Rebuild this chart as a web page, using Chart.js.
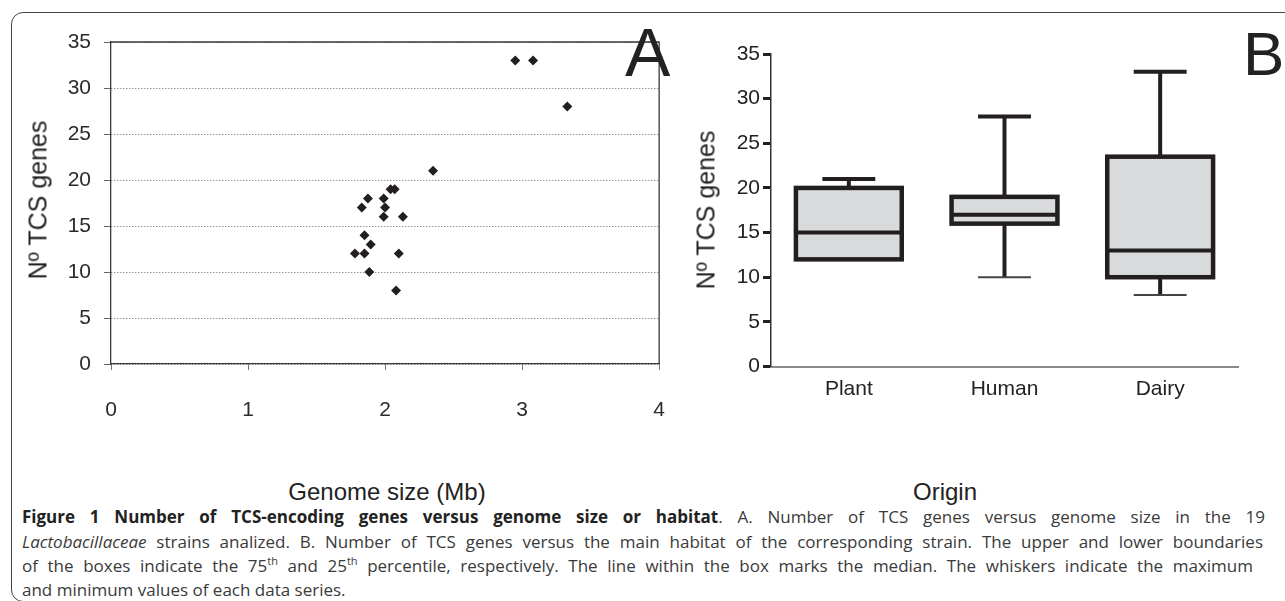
<!DOCTYPE html>
<html>
<head>
<meta charset="utf-8">
<script src="https://cdn.jsdelivr.net/npm/chart.js@4"></script>
<style>
  html, body { margin:0; padding:0; background:#fff; }
  body { width:1285px; height:601px; position:relative; overflow:hidden; font-family:"Liberation Sans", Arial, sans-serif; }
  .frame { position:absolute; left:11px; top:12px; width:1300px; height:590px; border:1.5px solid #444; border-radius:12px; box-sizing:border-box; }
  .abs { position:absolute; white-space:nowrap; color:#222; }
  #wrapA { position:absolute; left:0; top:0; width:693px; height:440px; }
  #wrapB { position:absolute; left:680px; top:0; width:605px; height:440px; }
  .title { font-size:24px; transform:translate(-50%,-50%); }
  .ylab { font-size:25px; transform:translate(-50%,-50%) rotate(-90deg); }
  .letter { line-height:1; }
  .cap { position:absolute; left:22px; font-family:"Open Sans", "Noto Sans", sans-serif; font-size:17px; color:#3a3a3a; white-space:nowrap; line-height:20px; }
  .cap b { color:#222; }
  .cap sup { font-size:11px; line-height:0; vertical-align:7px; }
</style>
</head>
<body>
<div class="frame"></div>
<div id="wrapA"><canvas id="chartA" width="693" height="440"></canvas></div>
<div id="wrapB"><canvas id="chartB" width="605" height="440"></canvas></div>

<div class="abs letter" style="left:625px; top:18px; font-size:68px;">A</div>
<div class="abs letter" style="left:1243px; top:23px; font-size:62px;">B</div>
<div class="abs title" style="left:387px; top:492px;">Genome size (Mb)</div>
<div class="abs title" style="left:945px; top:492px;">Origin</div>
<div class="abs ylab" style="left:38px; top:200px;">Nº TCS genes</div>
<div class="abs ylab" style="left:706px; top:210px;">Nº TCS genes</div>

<div class="cap" data-right="1265" style="top:507px;"><b>Figure 1 Number of TCS-encoding genes versus genome size or habitat</b>. A. Number of TCS genes versus genome size in the 19</div>
<div class="cap" data-right="1263" style="top:532px;"><i>Lactobacillaceae</i> strains analized. B. Number of TCS genes versus the main habitat of the corresponding strain. The upper and lower boundaries</div>
<div class="cap" data-right="1253" style="top:556px;">of the boxes indicate the 75<sup>th</sup> and 25<sup>th</sup> percentile, respectively. The line within the box marks the median. The whiskers indicate the maximum</div>
<div class="cap" style="top:580px;">and minimum values of each data series.</div>

<script>
// ---- Panel A data: genome size (Mb) vs number of TCS genes ----
const genomeSize = [2.95, 3.08, 3.33, 2.35, 2.04, 2.07, 1.875, 1.99, 1.83, 2.0, 1.99, 2.13, 1.85, 1.895, 1.78, 1.85, 2.10, 1.885, 2.08];
const tcsGenes   = [33,   33,   28,   21,   19,   19,   18,    18,   17,   17,  16,   16,   14,   13,    12,   12,   12,   10,    8];
const xTicksA = [0, 1, 2, 3, 4];
const yTicks  = [0, 5, 10, 15, 20, 25, 30, 35];

// ---- Panel B data: box plot by origin ----
const origins = ['Plant', 'Human', 'Dairy'];
const boxMin    = [12, 10, 8];
const boxQ1     = [12, 16, 10];
const boxMedian = [15, 17, 13];
const boxQ3     = [20, 19, 23.5];
const boxMax    = [21, 28, 33];

// justify caption lines to their right edges
document.querySelectorAll('.cap[data-right]').forEach(el => {
  const target = +el.dataset.right - 22;
  const w = el.getBoundingClientRect().width;
  const spaces = (el.textContent.match(/ /g) || []).length;
  if (spaces) el.style.wordSpacing = ((target - w) / spaces) + 'px';
});

const FONT = '"Liberation Sans", Arial, sans-serif';
const INK = '#231f20';

const frameA = {
  id: 'frameA',
  afterDraw(chart) {
    const {ctx, chartArea: a} = chart;
    ctx.save();
    ctx.strokeStyle = '#3a3a3a';
    ctx.lineWidth = 1.3;
    ctx.beginPath();
    ctx.moveTo(a.left, a.top); ctx.lineTo(a.right, a.top); ctx.lineTo(a.right, a.bottom);
    ctx.stroke();
    ctx.restore();
  }
};

new Chart(document.getElementById('chartA'), {
  type: 'scatter',
  data: {
    datasets: [{
      data: genomeSize.map((x, i) => ({x, y: tcsGenes[i]})),
      pointStyle: 'rectRot',
      pointRadius: 5,
      pointHoverRadius: 5,
      backgroundColor: INK,
      borderColor: INK,
      borderWidth: 0
    }]
  },
  options: {
    responsive: false,
    animation: false,
    events: [],
    layout: { padding: { top: 42, right: 0, left: 0, bottom: 0 } },
    plugins: { legend: { display: false }, tooltip: { enabled: false } },
    scales: {
      x: {
        type: 'linear', min: 0, max: 4,
        afterBuildTicks: s => { s.ticks = xTicksA.map(v => ({value: v})); },
        afterFit: s => { s.height = 76; },
        grid: { drawOnChartArea: false, tickLength: 6, color: '#777', lineWidth: 1 },
        border: { color: '#3a3a3a', width: 1.3 },
        ticks: { padding: 28, color: '#2b2b2b', font: { family: FONT, size: 21 } }
      },
      y: {
        type: 'linear', min: 0, max: 35,
        afterBuildTicks: s => { s.ticks = yTicks.map(v => ({value: v})); },
        afterFit: s => { s.width = 111; },
        grid: { color: '#666', lineWidth: 1, tickLength: 7, tickColor: '#666', tickBorderDash: [] },
        border: { color: '#3a3a3a', width: 1.3, dash: [1, 2] },
        ticks: { padding: 13, color: '#2b2b2b', font: { family: FONT, size: 21 } }
      }
    }
  },
  plugins: [frameA]
});

const boxPlugin = {
  id: 'boxes',
  afterDatasetsDraw(chart) {
    const {ctx} = chart;
    const xs = chart.scales.x, ys = chart.scales.y;
    const meta = chart.getDatasetMeta(0);
    ctx.save();
    ctx.strokeStyle = INK;
    ctx.lineCap = 'butt';
    origins.forEach((c, i) => {
      const x = xs.getPixelForValue(i);
      const half = meta.data[i].width / 2;
      const yMin = ys.getPixelForValue(boxMin[i]);
      const yQ1 = ys.getPixelForValue(boxQ1[i]);
      const yMed = ys.getPixelForValue(boxMedian[i]);
      const yQ3 = ys.getPixelForValue(boxQ3[i]);
      const yMax = ys.getPixelForValue(boxMax[i]);
      ctx.lineWidth = 4;
      ctx.beginPath();
      ctx.moveTo(x, yQ3); ctx.lineTo(x, yMax);
      ctx.moveTo(x, yQ1); ctx.lineTo(x, yMin);
      ctx.stroke();
      ctx.beginPath();
      ctx.moveTo(x - half / 2, yMax); ctx.lineTo(x + half / 2, yMax);
      ctx.stroke();
      if (boxMin[i] < boxQ1[i]) {
        ctx.save();
        ctx.lineWidth = 2; ctx.strokeStyle = '#444';
        ctx.beginPath();
        ctx.moveTo(x - half / 2, yMin); ctx.lineTo(x + half / 2, yMin);
        ctx.stroke();
        ctx.restore();
      }
      ctx.lineWidth = 4.5;
      ctx.strokeRect(x - half, yQ3, half * 2, yQ1 - yQ3);
      ctx.lineWidth = 4;
      ctx.beginPath();
      ctx.moveTo(x - half, yMed); ctx.lineTo(x + half, yMed);
      ctx.stroke();
    });
    ctx.restore();
  }
};

new Chart(document.getElementById('chartB'), {
  type: 'bar',
  data: {
    labels: origins,
    datasets: [{
      data: origins.map((c, i) => [boxQ1[i], boxQ3[i]]),
      backgroundColor: '#d9dadb',
      borderWidth: 0,
      barPercentage: 0.68,
      categoryPercentage: 1
    }]
  },
  options: {
    responsive: false,
    animation: false,
    events: [],
    layout: { padding: { top: 54, right: 47, left: 0, bottom: 0 } },
    plugins: { legend: { display: false }, tooltip: { enabled: false } },
    scales: {
      x: {
        afterFit: s => { s.height = 73.5; },
        grid: { display: false },
        border: { color: '#8a8a8a', width: 2 },
        ticks: { padding: 2, color: '#222', font: { family: FONT, size: 21 } }
      },
      y: {
        min: 0, max: 35,
        afterBuildTicks: s => { s.ticks = yTicks.map(v => ({value: v})); },
        afterFit: s => { s.width = 91; },
        grid: { drawOnChartArea: false, tickLength: 8, tickWidth: 3, tickColor: INK },
        border: { color: '#333', width: 1.5 },
        ticks: { padding: 3, color: '#222', font: { family: FONT, size: 21 } }
      }
    }
  },
  plugins: [boxPlugin]
});
</script>
</body>
</html>
